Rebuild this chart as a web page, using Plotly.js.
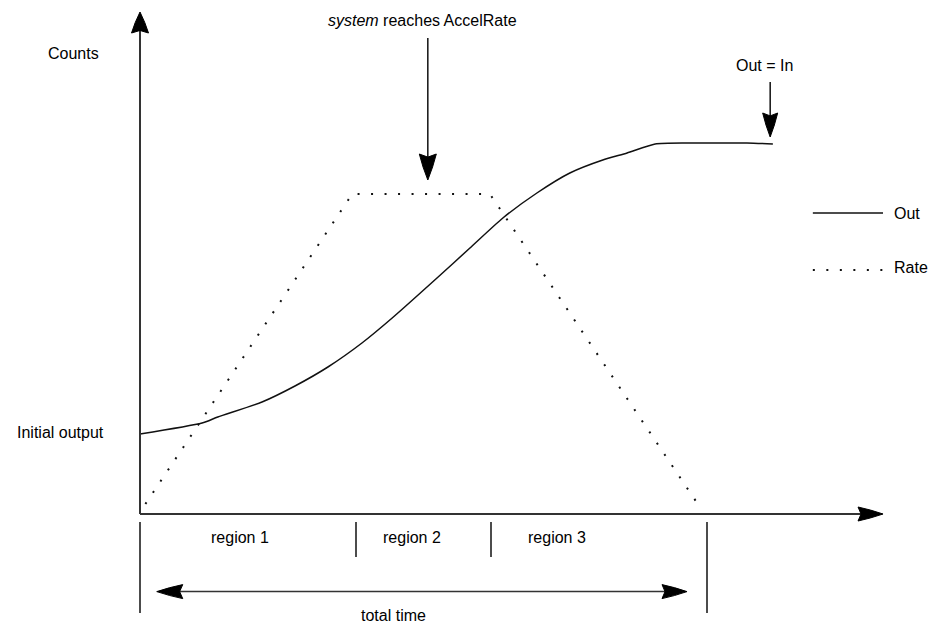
<!DOCTYPE html>
<html>
<head>
<meta charset="utf-8">
<script src="https://cdn.plot.ly/plotly-3.0.1.min.js"></script>
<style>
  html, body { margin: 0; padding: 0; background: #ffffff; }
  #chart { width: 941px; height: 626px; }
</style>
</head>
<body>
<div id="chart"></div>
<script>
// Output (counts) over time
const timeOut   = [0, 1.15, 1.44, 2.26, 2.87, 3.48, 4.11, 4.67, 5.5, 6.11, 6.72, 7.35, 7.96, 8.57, 9.02, 9.54, 10.15, 11.24, 11.72];
const countsOut = [20.0, 22.75, 24.25, 28, 32, 36.75, 42.75, 49, 59, 66.5, 74, 80.25, 85.25, 88.5, 90.25, 92.5, 92.75, 92.75, 92.5];

// Rate profile: ramp up, hold at AccelRate, ramp down
const timeRate = [0.1, 3.93, 6.48, 10.33];
const rateVals = [2.5, 80, 80, 2.5];

// Region boundaries along the time axis and their labels
const regionBounds = [0, 4, 6.5, 10.5];
const regionNames  = ['region 1', 'region 2', 'region 3'];

// Series names
const seriesNames = ['Out', 'Rate'];

// ---- scales: 54 px per time unit, 4 px per count unit ----
const X_RANGE = [-2.5926, 14.8333];
const Y_RANGE = [-28, 128.5];

const FONT = { family: 'Liberation Sans, Arial, sans-serif', size: 16, color: '#000' };
const INK = '#111';
const AXIS = '#333';
const DOT = '2px,11.5px';

// Filled arrowhead (pixel path) with tip at the anchor, pointing along (dx, dy)
function headPath(dx, dy, len, hw) {
  const px = -dy, py = dx;
  const pt = (a, b) => (a * dx + b * px).toFixed(2) + ',' + (a * dy + b * py).toFixed(2);
  return 'M0,0' +
    ' Q' + pt(-0.5 * len, 0.62 * hw) + ' ' + pt(-len, hw) +
    ' L' + pt(-0.88 * len, 0) +
    ' L' + pt(-len, -hw) +
    ' Q' + pt(-0.5 * len, -0.62 * hw) + ' 0,0 Z';
}
function head(x, y, dx, dy, len, hw) {
  return {
    type: 'path', xref: 'x', yref: 'y',
    xsizemode: 'pixel', ysizemode: 'pixel', xanchor: x, yanchor: y,
    path: headPath(dx, dy, len, hw),
    fillcolor: '#000', line: { color: '#000', width: 1 }
  };
}
function seg(x0, y0, x1, y1, color, width, dash) {
  return {
    type: 'line', xref: 'x', yref: 'y', x0: x0, y0: y0, x1: x1, y1: y1,
    line: { color: color, width: width, dash: dash || 'solid' }
  };
}

const xEnd = 13.76, yEnd = 125.5;       // axis arrow tips
const tickTop = -2, tickShort = -10.75, tickLong = -24.75;
const totalY = -19.4, totalL = 0.31, totalR = 10.13;

const shapes = [
  // axes with arrowheads
  seg(0, 0, xEnd - 0.35, 0, AXIS, 2),
  seg(0, 0, 0, yEnd - 4.5, AXIS, 2),
  head(xEnd, 0, 1, 0, 25, 7),
  head(0, yEnd, 0, 1, 21, 8.5),

  // region dividers below the time axis
  seg(regionBounds[0], tickTop, regionBounds[0], tickLong, INK, 1.5),
  seg(regionBounds[1], tickTop, regionBounds[1], tickShort, INK, 1.5),
  seg(regionBounds[2], tickTop, regionBounds[2], tickShort, INK, 1.5),
  seg(regionBounds[3], tickTop, regionBounds[3], tickLong, INK, 1.5),

  // total time double arrow
  seg(totalL + 0.3, totalY, totalR - 0.3, totalY, AXIS, 1.5),
  head(totalL, totalY, -1, 0, 26, 7),
  head(totalR, totalY, 1, 0, 25, 7),

  // callout arrows
  seg(5.33, 119, 5.33, 88, INK, 1.5),
  head(5.33, 83.5, 0, -1, 26, 8.5),
  seg(11.67, 108, 11.67, 98, INK, 1.5),
  head(11.67, 94.25, 0, -1, 24, 7.5),

  // key
  seg(12.46, 75.25, 13.76, 75.25, INK, 1.5),
  seg(12.46, 61, 13.76, 61, INK, 2, DOT)
];

const ann = (x, y, text, xanchor) => ({
  x: x, y: y, xref: 'x', yref: 'y', text: text, showarrow: false,
  xanchor: xanchor || 'center', yanchor: 'middle', font: FONT
});

const regionCenters = [1.85, 5.03, 7.72];
const annotations = [
  ann(-1.23, 115.25, 'Counts'),
  ann(-1.48, 20.5, 'Initial output'),
  ann(5.23, 123.5, '<i>system</i> reaches AccelRate'),
  ann(11.56, 112.25, 'Out = In'),
  ann(13.93, 75.25, seriesNames[0], 'left'),
  ann(13.93, 61.75, seriesNames[1], 'left'),
  ann(4.70, -25.25, 'total time')
].concat(regionNames.map((n, i) => ann(regionCenters[i], -5.75, n)));

const traces = [
  {
    x: timeOut, y: countsOut, name: seriesNames[0], type: 'scatter', mode: 'lines',
    line: { color: INK, width: 1.5, shape: 'spline', smoothing: 0.6 },
    hoverinfo: 'skip'
  },
  {
    x: timeRate, y: rateVals, name: seriesNames[1], type: 'scatter', mode: 'lines',
    line: { color: INK, width: 2, dash: DOT },
    hoverinfo: 'skip'
  }
];

const layout = {
  width: 941, height: 626,
  margin: { l: 0, r: 0, t: 0, b: 0 },
  paper_bgcolor: '#ffffff', plot_bgcolor: '#ffffff',
  showlegend: false,
  xaxis: { range: X_RANGE, visible: false, fixedrange: true },
  yaxis: { range: Y_RANGE, visible: false, fixedrange: true },
  shapes: shapes,
  annotations: annotations,
  font: FONT
};

Plotly.newPlot('chart', traces, layout, { staticPlot: true, displayModeBar: false });
</script>
</body>
</html>
